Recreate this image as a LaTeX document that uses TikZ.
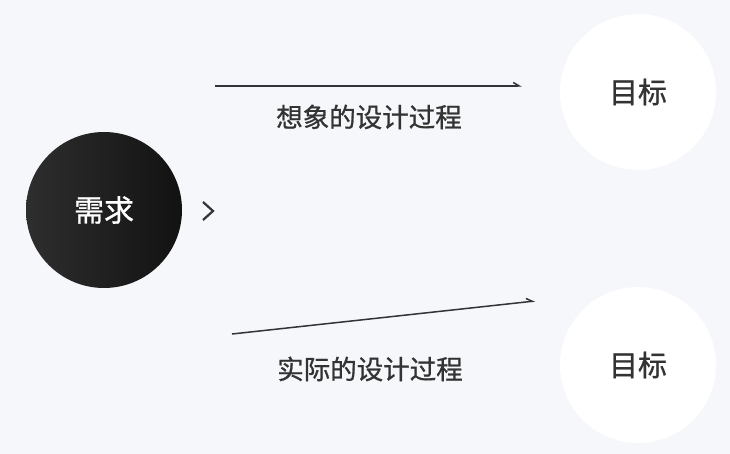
\documentclass[tikz,border=0pt]{standalone}
\usepackage{fontspec}
\newfontfamily\cjk{Noto Sans CJK SC}[FakeBold=0.9]
\usetikzlibrary{
  arrows.meta,
  positioning,
}
\definecolor{bgcol}{HTML}{F5F7FA}
\definecolor{ink}{HTML}{333333}
\tikzset{
  font=\cjk,
  need node/.style={
    circle,
    minimum size=156pt,
    inner sep=0pt,
    left color=black!82,
    right color=black!93,
    text=white,
    font=\cjk\fontsize{30}{30}\selectfont
  },
  goal node/.style={
    circle,
    minimum size=156pt,
    inner sep=0pt,
    fill=white,
    text=ink,
    font=\cjk\fontsize{29}{29}\selectfont
  },
  process label/.style={
    text=ink,
    font=\cjk\fontsize{26.5}{26.5}\selectfont
  },
  process arrow/.style={
    draw=ink,
    line width=1.5pt,
    -{Straight Barb[harpoon,length=6pt,width=7pt]}
  },
  chevron/.style={
    draw=ink,
    line width=2.2pt
  }
}

\begin{document}
\begin{tikzpicture}[x=1pt,y=-1pt]
\fill[bgcol] (0,0) rectangle (730,454);
\useasboundingbox (0,0) rectangle (730,454);
\node[need node]  (need)  at (104,210) {需求};
\node[goal node]  (goal1) at (638,92)  {目标};
\node[goal node]  (goal2) at (638,365) {目标};
\coordinate (chev) at (203,202);
\coordinate (ideal start)  at (215,86);
\coordinate (ideal end)    at (522,86);
\coordinate (actual start) at (232,334);
\coordinate (actual end)   at (535,301);
\node[process label] (ideal)  at (369,117) {想象的设计过程};
\node[process label] (actual) at (370,369) {实际的设计过程};
\path[chevron] (chev) -- ++(10,9) -- ++(-10,9);
\path[process arrow] (ideal start) -- (ideal end);
\path[process arrow] (actual start) -- (actual end);
\end{tikzpicture}
\end{document}
